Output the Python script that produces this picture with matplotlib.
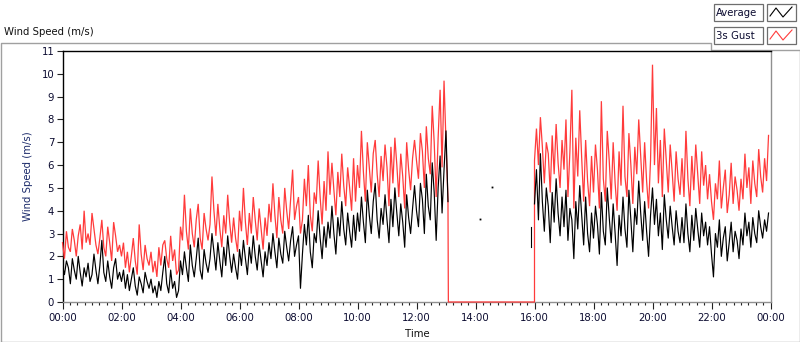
import numpy as np
import matplotlib
matplotlib.use("Agg")
import matplotlib.pyplot as plt
from matplotlib.ticker import MultipleLocator, FuncFormatter
from matplotlib.patches import Rectangle

# ---------------- data (4-minute samples, m/s) ----------------
avg_pre = [
    1.6,1.2,1.8,1.5,0.8,1.9,1.4,1.0,2.0,1.3,0.7,1.5,1.1,1.7,0.9,   # 00h
    1.2,2.1,1.4,0.8,1.6,2.7,1.3,0.9,1.8,1.1,0.6,1.5,1.9,1.0,1.3,   # 01h
    0.9,1.4,0.6,1.2,0.5,1.0,1.5,0.7,0.3,1.1,0.8,0.4,1.3,0.9,0.6,   # 02h
    1.0,0.4,0.7,0.2,0.9,0.5,1.3,2.0,0.8,0.4,1.4,0.6,0.9,0.2,0.5,   # 03h
    1.8,1.2,2.2,1.5,0.9,2.5,1.6,1.1,1.9,2.8,1.4,1.0,2.3,1.7,1.3,   # 04h
    1.9,3.0,2.2,1.4,2.6,1.8,1.1,2.4,1.6,2.9,2.0,1.3,2.1,1.5,1.0,   # 05h
    2.3,1.6,2.7,1.9,1.2,2.4,1.7,2.9,2.0,1.4,2.5,1.8,1.1,2.2,1.6,   # 06h
    2.6,1.9,3.0,2.2,1.5,2.8,2.1,1.7,3.1,2.4,1.8,2.7,3.3,2.0,2.5,   # 07h
    2.9,0.6,2.1,3.4,2.5,3.8,2.2,1.5,3.0,2.6,4.0,2.8,1.9,3.3,2.4,   # 08h
    3.5,2.8,4.2,3.0,2.1,3.7,2.9,4.4,3.2,2.5,3.9,3.1,2.4,3.8,2.7,   # 09h
    3.9,3.1,4.6,3.5,2.6,4.9,3.8,3.0,4.4,5.2,3.6,2.8,4.1,3.4,4.7,   # 10h
    3.6,2.6,4.5,3.3,5.0,3.9,2.9,4.3,3.5,2.4,4.7,3.7,3.0,4.1,5.1,   # 11h
    4.0,3.3,5.2,4.5,3.0,5.6,4.2,3.6,6.1,4.8,2.7,5.0,6.4,3.9,5.8,   # 12h
    7.5,4.4,                                                       # 13:00-13:04
]
gust_pre = [
    2.6,1.9,3.1,2.4,2.2,3.2,2.7,2.0,2.9,3.4,2.3,4.0,2.6,3.0,2.5,
    3.9,3.2,2.5,2.1,2.8,3.6,2.4,2.0,3.3,2.6,1.8,3.5,2.9,2.2,2.5,
    2.0,2.6,1.5,2.2,1.3,2.0,2.8,1.8,1.2,3.4,2.1,1.4,2.5,1.9,1.6,
    2.2,1.3,1.8,1.1,2.4,1.6,2.5,2.7,1.9,1.5,2.9,1.8,2.3,1.2,1.4,
    3.3,2.7,4.7,3.1,2.3,4.1,3.0,2.4,3.6,4.3,2.8,2.3,3.9,3.2,2.7,
    3.4,5.5,4.0,2.9,4.3,3.2,2.4,3.8,3.0,4.7,3.5,2.6,3.7,2.8,2.2,
    4.0,3.1,5.0,3.5,2.5,3.9,3.0,4.6,3.6,2.7,4.1,3.2,2.3,3.7,2.9,
    4.3,3.5,5.2,3.8,2.8,4.6,3.6,3.0,5.0,4.0,3.2,4.5,5.8,3.6,4.2,
    4.6,3.0,3.6,5.4,4.2,6.0,3.8,3.1,4.8,4.3,6.2,4.6,3.4,5.3,4.0,
    6.6,4.7,6.1,4.9,3.8,5.7,4.6,6.5,5.1,4.2,5.9,5.0,4.0,6.3,4.4,
    6.0,5.0,7.5,5.7,4.4,7.0,5.9,4.8,6.5,7.1,5.6,4.6,6.4,5.3,6.9,
    5.9,4.2,6.8,5.2,7.2,6.0,4.6,6.5,5.5,4.1,7.0,5.8,4.9,6.3,7.1,
    6.2,5.4,7.4,6.6,5.0,7.7,6.3,5.6,8.6,7.0,4.6,7.2,9.3,5.9,9.7,
    7.0,4.5,
]
# logger outage: gust reads zero from 13:05 to 16:00
gap_hours = [13.08, 16.0]
gap_gust = [0.0, 0.0]
# stray average readings during the outage
stray_hours = [14.15, 14.57]
stray_avg = [3.65, 5.05]
stray_seg_hours = [15.87, 15.87]
stray_seg_avg = [2.4, 3.3]

avg_post = [
    4.3,5.8,3.6,6.5,4.4,3.1,5.0,4.2,2.6,4.8,3.5,5.4,3.9,2.9,4.6,   # 16h
    3.3,4.9,2.7,4.1,3.6,1.9,4.4,3.2,5.1,3.8,2.5,4.6,3.0,2.2,3.9,   # 17h
    2.8,4.2,3.4,2.1,4.8,3.1,2.5,5.0,3.7,2.6,4.3,3.0,1.6,3.8,2.9,   # 18h
    4.6,3.2,2.4,4.9,3.6,2.2,4.1,3.4,5.3,3.9,2.7,4.4,3.1,2.0,3.8,   # 19h
    5.0,3.4,4.5,2.9,3.9,2.3,4.7,3.6,2.8,4.2,3.3,2.5,4.0,3.1,2.6,   # 20h
    3.7,2.6,4.3,3.0,2.2,3.8,2.7,4.1,3.2,2.4,3.9,2.9,3.5,2.5,3.3,   # 21h
    2.1,1.1,3.0,2.4,3.6,2.0,2.8,3.3,1.8,2.6,3.5,2.2,3.1,2.7,1.9,   # 22h
    3.2,2.5,3.9,2.9,3.5,2.4,3.7,3.0,2.6,4.0,3.3,2.8,3.6,3.1,3.9,   # 23h
]
gust_post = [
    6.2,7.6,6.0,8.1,6.8,5.2,7.0,6.5,4.8,7.3,5.6,7.8,6.1,5.0,7.1,
    5.8,8.0,4.6,6.6,9.3,4.1,7.2,5.5,8.4,6.3,4.4,7.1,5.3,4.2,6.4,
    4.8,6.9,5.8,4.1,8.8,5.4,4.4,7.5,6.2,4.5,7.0,5.2,4.0,6.6,5.1,
    8.6,5.5,4.6,7.4,6.0,4.3,6.8,5.6,8.0,6.4,4.8,7.0,5.3,4.1,6.2,
    10.4,6.0,8.5,5.2,7.1,4.6,7.6,6.2,4.8,6.9,5.7,4.4,6.6,5.4,4.7,
    6.3,4.6,7.5,5.4,4.2,6.4,4.9,6.9,5.6,4.3,6.6,5.1,6.0,4.5,5.6,
    4.4,3.6,5.2,4.5,6.2,4.1,5.0,5.8,3.9,4.7,6.1,4.3,5.5,4.9,4.0,
    5.4,4.5,6.5,5.0,5.9,4.3,6.2,5.2,4.6,6.7,5.5,4.8,6.3,5.3,7.3,
]
sample_minutes = 4
post_start_hour = 16.0

tick_hours = list(range(0, 25, 2))
y_ticks = list(range(0, 12))

# ---------------- build series ----------------
t_pre = np.arange(len(avg_pre)) * sample_minutes / 60.0
t_post = post_start_hour + np.arange(len(avg_post)) * sample_minutes / 60.0
t_gust = np.concatenate([t_pre, gap_hours, t_post])
v_gust = np.concatenate([gust_pre, gap_gust, gust_post])

# ---------------- figure ----------------
W, H = 800, 342
fig = plt.figure(figsize=(W / 100, H / 100), dpi=100)
fig.patch.set_facecolor("white")
plt.rcParams["font.family"] = ["DejaVu Sans"]

# pixel overlay for frames and legend
bg = fig.add_axes([0, 0, 1, 1], zorder=0)
bg.set_xlim(0, W)
bg.set_ylim(H, 0)
bg.axis("off")
gray = "#a0a0a0"
bg.plot([0.5, 0.5, 711, 711, 799.5, 799.5, 0.5],
        [341.5, 42.5, 42.5, 49.5, 49.5, 341.5, 341.5], color=gray, lw=1.0)
bg.text(4, 32, "Wind Speed (m/s)", fontsize=7.3, va="center", ha="left", color="#111111")
bg.text(417, 334, "Time", fontsize=7.3, va="center", ha="center", color="#111111")

# legend boxes
for row, (label, col) in enumerate([("Average", "black"), ("3s Gust", "#ff3b3b")]):
    y0 = 4 + row * 23
    bg.add_patch(Rectangle((713.5, y0), 49, 17, facecolor="white", edgecolor="#6e6e6e", lw=0.9))
    bg.add_patch(Rectangle((766.5, y0), 29, 17, facecolor="white", edgecolor="#6e6e6e", lw=0.9))
    bg.text(716, y0 + 8.8, label, fontsize=7.3, va="center", ha="left", color="#0b0b30")
    bg.plot([770, 776, 783, 792], [y0 + 12, y0 + 4, y0 + 13, y0 + 3], color=col, lw=0.8)

# main plot axes (pixels: x 63..771, y 51..302)
x0, x1 = 62.5, 770.5
y_top, y_bot = 51.0, 302.0
ax = fig.add_axes([x0 / W, 1 - y_bot / H, (x1 - x0) / W, (y_bot - y_top) / H], zorder=2)
ax.set_facecolor("white")

ax.plot(t_gust, v_gust, color="#ff3b3b", lw=0.9, solid_joinstyle="miter",
        zorder=3, clip_on=False)
ax.plot(t_pre, avg_pre, color="black", lw=0.85, zorder=4)
ax.plot(t_post, avg_post, color="black", lw=0.85, zorder=4)
ax.plot(stray_hours, stray_avg, ls="none", marker="s", ms=1.3, color="black", mew=0, zorder=4)
ax.plot(stray_seg_hours, stray_seg_avg, color="black", lw=0.8, zorder=4)

ax.set_xlim(0, 24)
ax.set_ylim(0, 11)
ax.set_xticks(tick_hours)
ax.xaxis.set_major_formatter(FuncFormatter(lambda v, p: f"{int(v) % 24:02d}:00"))
ax.xaxis.set_minor_locator(MultipleLocator(0.25))
ax.set_yticks(y_ticks)

ax.tick_params(axis="both", which="major", direction="out", length=4, width=0.8,
               labelsize=7.3, labelcolor="#0b0b30", color="#222222", pad=2)
ax.tick_params(axis="x", which="minor", direction="out", length=2.5, width=0.8, color="#222222")
ax.tick_params(axis="x", which="major", length=5, pad=3)

for s in ["left", "top"]:
    ax.spines[s].set_color("black")
    ax.spines[s].set_linewidth(1.0)
for s in ["right", "bottom"]:
    ax.spines[s].set_color("#909090")
    ax.spines[s].set_linewidth(1.0)

ax.set_ylabel("Wind Speed (m/s)", fontsize=7.3, color="#1b2a6a")
ax.yaxis.set_label_coords(-(x0 - 33) / (x1 - x0), 0.5)

fig.savefig("out.png", dpi=100, facecolor="white")
